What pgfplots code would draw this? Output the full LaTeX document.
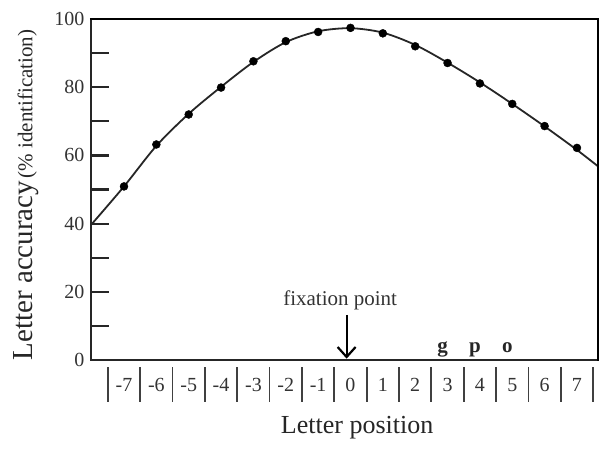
\documentclass[border=0pt]{standalone}
\usepackage{fontspec}
\setmainfont{Liberation Serif}
\usepackage{pgfplots}
\pgfplotsset{compat=1.18}
\usetikzlibrary{arrows.meta}

% letter accuracy (%) by letter position
\pgfplotstableread{
x y
-7 50.9
-6 63.2
-5 72.0
-4 79.9
-3 87.6
-2 93.5
-1 96.2
0 97.4
1 95.8
2 92.0
3 87.1
4 81.1
5 75.1
6 68.6
7 62.2
}\accdata

% fitted curve
\pgfplotstableread{
x y
-8.02 39.6
-7 50.9
-6 62.8
-5 72.2
-4 80.1
-3 87.4
-2 93.2
-1 96.4
0 97.3
1 96.0
2 92.4
3 87.2
4 81.4
5 75.1
6 68.5
7 61.6
7.65 56.8
}\fitdata

\begin{document}
\begin{tikzpicture}
\begin{axis}[
  scale only axis, width=507pt, height=341pt,
  at={(0,0)}, anchor=south west,
  xmin=-8.02, xmax=7.65, ymin=0, ymax=100,
  clip=false,
  axis line style={line width=2.2pt, black!85},
  xtick={-7,...,7},
  xticklabels={-7,-6,-5,-4,-3,-2,-1,0,1,2,3,4,5,6,7},
  x tick style={draw=none},
  xticklabel style={font=\fontsize{20}{20}\selectfont, text=black!80,
                    anchor=center, yshift=-25pt},
  ytick={0,20,...,100},
  minor ytick={10,30,...,90},
  ytick pos=left, tick align=inside,
  major tick length=18pt, minor tick length=18pt,
  y tick style={line width=2.2pt, black!85},
  minor y tick style={line width=2.2pt, black!85},
  yticklabel style={font=\fontsize{20}{20}\selectfont, text=black!80,
                    xshift=-3pt,
                    /pgf/number format/assume math mode=true},
  xlabel={Letter position},
  xlabel style={at={(axis description cs:0.525,-0.199)}, anchor=center,
                font=\fontsize{26}{26}\selectfont, text=black!85},
  ylabel={{\fontsize{29}{29}\selectfont Letter accuracy}
          {\fontsize{21}{21}\selectfont (\% identification)}},
  ylabel style={at={(axis description cs:-0.128,0.484)}, anchor=center,
                text=black!85},
]

\addplot[black!85, line width=1.8pt, smooth, tension=0.5] table {\fitdata};
\addplot[only marks, mark=*, mark size=4pt, black] table {\accdata};

% separators between letter positions
\pgfplotsinvokeforeach{-7.5,-6.5,-5.5,-4.5,-3.5,-2.5,-1.5,-0.5,0.5,1.5,2.5,3.5,4.5,5.5,6.5,7.5}{
  \draw[line width=1.8pt, black!75] (axis cs:#1,0) ++(0pt,-7pt) -- ++(0pt,-35pt);
}

\node[font=\fontsize{21}{21}\selectfont, text=black!80] at (axis cs:-0.32,17.6)
  {fixation point};
\draw[line width=2.2pt, -{Straight Barb[length=10pt, width=18pt]}]
  (axis cs:-0.12,13.2) -- (axis cs:-0.12,0.4);

\node[font=\fontsize{21}{21}\selectfont\bfseries, anchor=base, text=black!85]
  at (axis cs:2.85,2.3) {g};
\node[font=\fontsize{21}{21}\selectfont\bfseries, anchor=base, text=black!85]
  at (axis cs:3.85,2.3) {p};
\node[font=\fontsize{21}{21}\selectfont\bfseries, anchor=base, text=black!85]
  at (axis cs:4.85,2.3) {o};

\end{axis}
% top and right sides of the frame
\draw[line width=2.2pt, black] (-1.1pt,341pt) -- (507pt,341pt) -- (507pt,-1.1pt);
\pgfresetboundingbox
\path (-91pt,-91pt) rectangle (511pt,360pt);
\end{tikzpicture}
\end{document}
